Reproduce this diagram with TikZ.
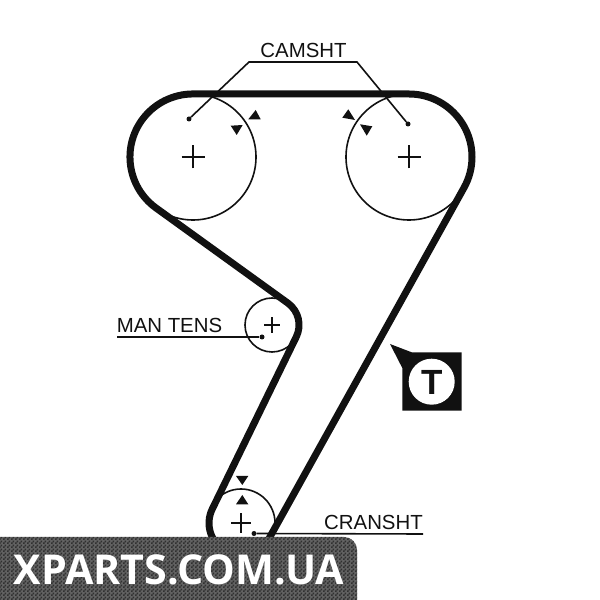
\documentclass[tikz,border=0pt]{standalone}
\usepackage{fontspec}
\setmainfont{Liberation Sans}
\newfontfamily\bannerfont{Open Sans}
\usetikzlibrary{calc,patterns}
\definecolor{ink}{HTML}{111111}
\definecolor{bannerbg}{HTML}{626262}
\definecolor{bannerdark}{HTML}{303030}
\pgfdeclarepatternformonly{bannercheck}{\pgfqpoint{0pt}{0pt}}{\pgfqpoint{4pt}{4pt}}{\pgfqpoint{4pt}{4pt}}{%
  \pgfpathrectangle{\pgfqpoint{0pt}{0pt}}{\pgfqpoint{2pt}{2pt}}%
  \pgfpathrectangle{\pgfqpoint{2pt}{2pt}}{\pgfqpoint{2pt}{2pt}}%
  \pgfusepath{fill}}
\tikzset{
  belt/.style={draw=ink,line width=7pt,line join=round},
  pulley/.style={circle,draw=ink,line width=1.6pt,inner sep=0pt,minimum size=#1},
  leader/.style={draw=ink,line width=1.6pt},
  cross/.style={draw=ink,line width=1.6pt},
  tip/.style={fill=ink,draw=none},
  lab/.style={text=ink,font=\fontsize{20.4}{20.4}\selectfont,inner sep=0pt},
  dotpt/.style={circle,fill=ink,inner sep=0pt,minimum size=5pt}
}
\newcommand{\plusmark}[2]{\draw[cross] ($(#1)+(-#2,0)$) -- ($(#1)+(#2,0)$) ($(#1)+(0,-#2)$) -- ($(#1)+(0,#2)$);}
\begin{document}
\begin{tikzpicture}[x=1pt,y=1pt]
\useasboundingbox (0,0) rectangle (600,600);
% pulleys
\node[pulley=126pt] (camL) at (193,443) {};
\node[pulley=126pt] (camR) at (409,443) {};
\node[pulley=54pt] (tens) at (272,275) {};
\node[pulley=68pt] (crank) at (241,77) {};
\plusmark{camL}{11.5}
\plusmark{camR}{11.5}
\plusmark{tens}{8}
\plusmark{crank}{10}
% belt
\draw[belt] (193,506) -- (409,506) arc (90:-29:63) -- (269,61.4) arc (-29:-206:32)
  -- (296.3,263.2) arc (-26:53.5:27) -- (155.5,392.4) arc (233.5:90:63) -- cycle;
% camshaft leaders
\node[lab] (camlabel) at (303.5,550) {CAMSHT};
\coordinate (elbL) at (249,538);
\coordinate (elbR) at (357,538);
\node[dotpt] (dotL) at (189,481) {};
\node[dotpt] (dotR) at (408,476) {};
\draw[leader] (dotL) -- (elbL) -- (elbR) -- (dotR);
% man tens
\node[lab] (manlabel) at (169.5,275) {MAN TENS};
\node[dotpt] (dotM) at (262,263) {};
\coordinate (manend) at (117,263);
\draw[leader] (manend) -- (dotM);
% cranshaft
\node[lab] (cranlabel) at (373.5,78) {CRANSHT};
\node[dotpt] (dotC) at (254,66.5) {};
\coordinate (cranend) at (423,66);
\draw[leader] (dotC) -- (cranend);
% arrow marks
\fill[tip] (248.3,480.7) -- (260.7,480.7) -- (255.7,490) -- cycle;
\fill[tip] (230.7,474.3) -- (242.7,475) -- (236.7,465) -- cycle;
\fill[tip] (342.3,482.3) -- (355,480) -- (348.3,490.7) -- cycle;
\fill[tip] (360,475.7) -- (372.3,473.7) -- (366.7,464.3) -- cycle;
\fill[tip] (236,124) -- (248.3,124) -- (242.3,115) -- cycle;
\fill[tip] (236,95.7) -- (248.3,95.7) -- (242.3,105) -- cycle;
% T badge
\fill[ink] (390,256) -- (411.7,247.7) -- (461.7,247.7) -- (461.7,189.3) -- (402.3,189.3) -- (402.3,232) -- cycle;
\node[circle,fill=white,inner sep=0pt,minimum size=46pt] (tdisc) at (431.7,218.3) {};
\node[text=ink,inner sep=0pt,font=\fontsize{35}{35}\selectfont\bfseries] (tletter) at (431.7,217.5) {T};
% banner
\fill[bannerbg] (0,0) -- (0,63) -- (344,63) arc (90:0:13) -- (357,0) -- cycle;
\fill[pattern=bannercheck,pattern color=bannerdark] (0,0) -- (0,63) -- (344,63) arc (90:0:13) -- (357,0) -- cycle;
\node[text=white,inner sep=0pt,font=\bannerfont\bfseries\fontsize{41.2}{41.2}\selectfont] (banner) at (179,30) {XPARTS.COM.UA};
\end{tikzpicture}
\end{document}
